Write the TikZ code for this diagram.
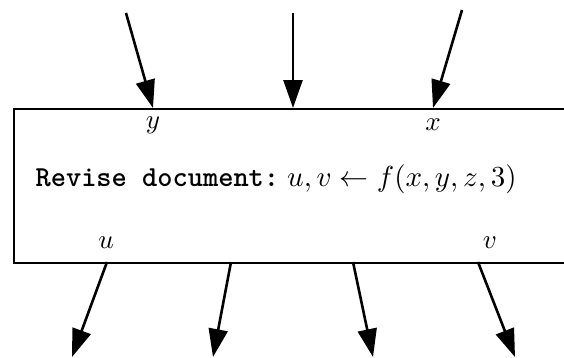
\documentclass[tikz,border=0pt]{standalone}
\usetikzlibrary{arrows.meta}
\begin{document}
\begin{tikzpicture}[x=1pt,y=1pt,
  boxline/.style={line width=2pt},
  flow/.style={line width=2.6pt,-{Triangle[length=28pt,width=19pt]}},
  lab/.style={inner sep=0pt,scale=2.7,transform shape},
  main/.style={inner sep=0pt,scale=2.9,transform shape}]
\path[use as bounding box] (0,0) rectangle (564,357);
\begin{scope}
\clip (0,0) rectangle (564,357);
\node[draw,boxline,rectangle,inner sep=0pt,anchor=north west,minimum width=600pt,minimum height=154pt] (box) at (13,249) {};
\node[main,anchor=west] (txt) at (35,178) {{\ttfamily\bfseries Revise document:}\;$u,v\leftarrow f(x,y,z,3)$};
% attach points on top edge
\coordinate (t1) at (153,249);
\coordinate (t2) at (293,249);
\coordinate (t3) at (433,249);
\coordinate (s1) at (126,344);
\coordinate (s2) at (293,344);
\coordinate (s3) at (462,347);
% attach points on bottom edge
\coordinate (b1) at (107,95);
\coordinate (b2) at (231,95);
\coordinate (b3) at (353,95);
\coordinate (b4) at (478,95);
\coordinate (e1) at (72,0);
\coordinate (e2) at (213,0);
\coordinate (e3) at (373,0);
\coordinate (e4) at (515,0);
\draw[flow] (s1) -- (t1);
\draw[flow] (s2) -- (t2);
\draw[flow] (s3) -- (t3);
\draw[flow] (b1) -- (e1);
\draw[flow] (b2) -- (e2);
\draw[flow] (b3) -- (e3);
\draw[flow] (b4) -- (e4);
\node[lab] (ly) at (153,232) {$y$};
\node[lab] (lx) at (433,232) {$x$};
\node[lab] (lu) at (106,114) {$u$};
\node[lab] (lv) at (490,114) {$v$};
\end{scope}
\end{tikzpicture}
\end{document}
